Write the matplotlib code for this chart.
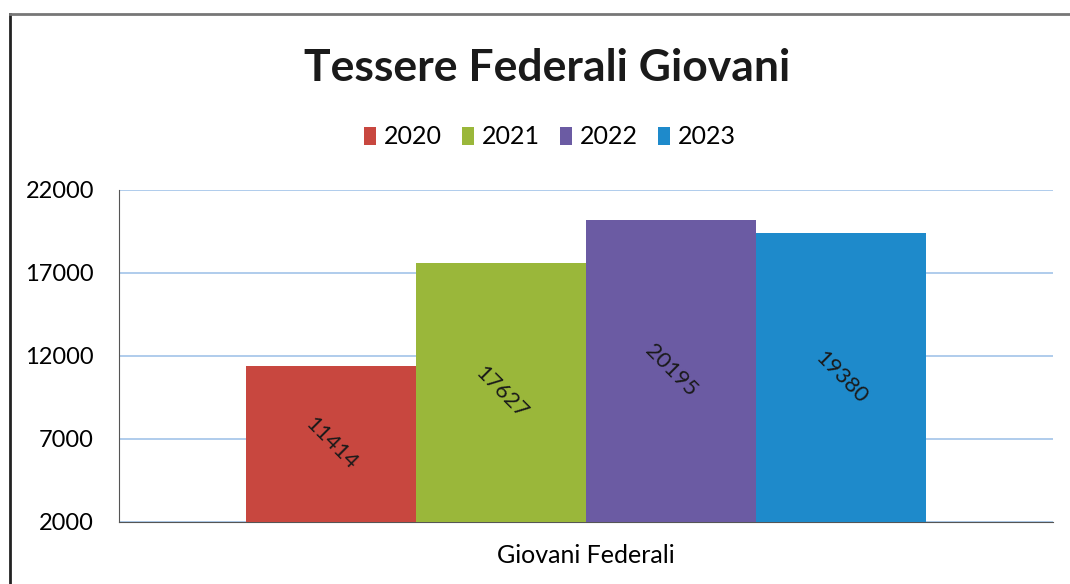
import numpy as np
import matplotlib.pyplot as plt
from matplotlib.lines import Line2D

years = ['2020', '2021', '2022', '2023']
values = [11414, 17627, 20195, 19380]
colors = ['#C8473F', '#9AB73A', '#6B5BA3', '#1E8ACB']
category = 'Giovani Federali'
yticks = [2000, 7000, 12000, 17000, 22000]

plt.rcParams['font.family'] = ['Lato', 'DejaVu Sans']

fig = plt.figure(figsize=(10.7, 5.84), dpi=100)
ax = fig.add_axes([0.1112, 0.1062, 0.8729, 0.5685])

# outer frame of the scanned chart
fig.add_artist(Line2D([10/1070, 10/1070], [0, 1 - 14/584], transform=fig.transFigure,
                      color='#222222', lw=2))
fig.add_artist(Line2D([10/1070, 1], [1 - 14/584, 1 - 14/584], transform=fig.transFigure,
                      color='#777777', lw=2))

w = 0.182
x = (np.arange(len(values)) - 1.5) * w
bars = ax.bar(x, np.array(values) - 2000, bottom=2000, width=w, color=colors,
              label=years, zorder=3)
for xi, v in zip(x, values):
    ax.text(xi, (2000 + v) / 2, str(v), rotation=-45, ha='center', va='center',
            fontsize=16, color='#1a1a1a', zorder=4)

ax.set_xlim(-0.5, 0.5)
ax.set_ylim(2000, 22000)
ax.set_yticks(yticks)
ax.set_yticklabels([str(t) for t in yticks], fontsize=17)
ax.set_xticks([0])
ax.set_xticklabels([category], fontsize=18)
ax.tick_params(length=0)
ax.tick_params(axis='x', pad=16)
ax.tick_params(axis='y', pad=18)
ax.yaxis.grid(True, color='#A9C8EA', lw=1.3, zorder=0)
for s in ['top', 'right']:
    ax.spines[s].set_visible(False)
ax.spines['left'].set_color('#555555')
ax.spines['bottom'].set_color('#555555')

fig.text(0.511, 1 - 68/584, 'Tessere Federali Giovani', ha='center', va='center',
         fontsize=32, fontweight='bold', color='#1a1a1a')
fig.legend(handles=bars, labels=years, loc='center', bbox_to_anchor=(0.514, 1 - 137/584),
           ncol=4, frameon=False, fontsize=18, handlelength=0.5, handleheight=0.7,
           handletextpad=0.3, columnspacing=0.8)

fig.savefig('out.png', dpi=100)
